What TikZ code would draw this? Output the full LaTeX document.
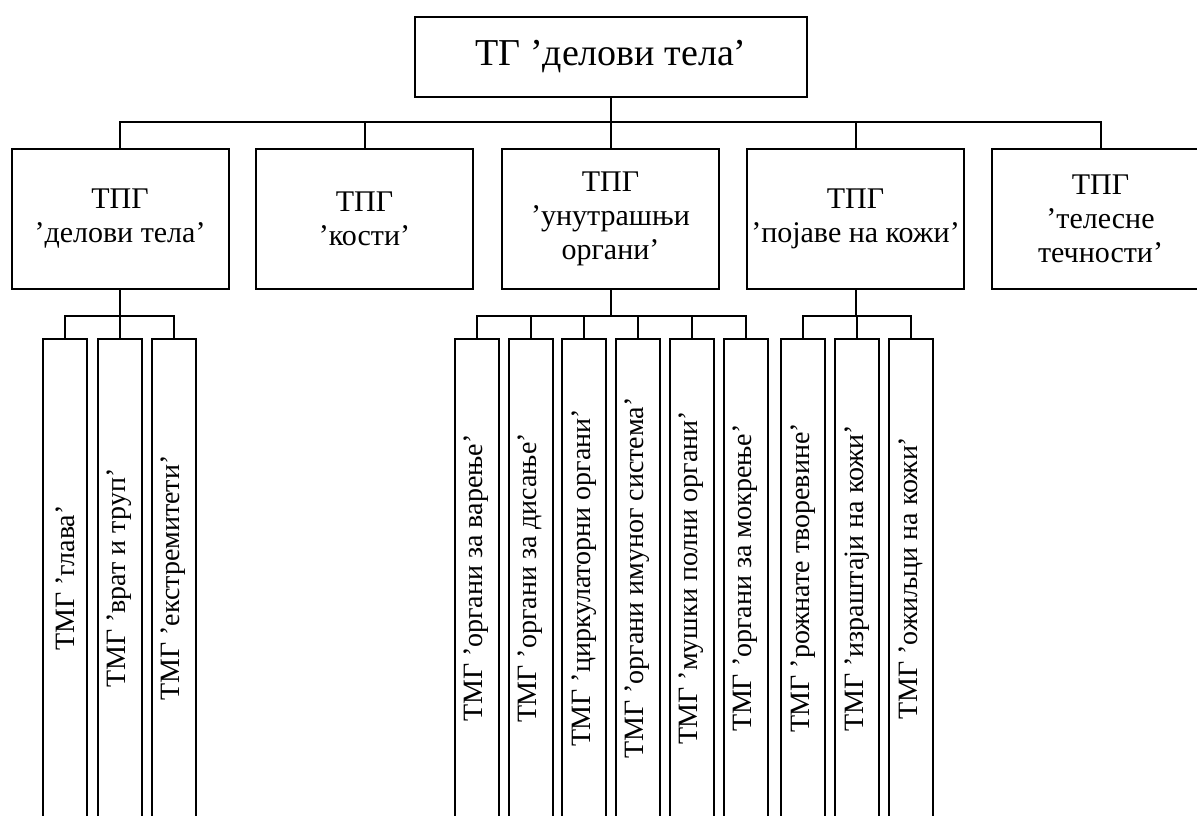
\documentclass[tikz,border=0pt]{standalone}
\usepackage{fontspec}
\setmainfont{Liberation Serif}
\usepackage{graphicx}
\begin{document}
\begin{tikzpicture}[x=0.5pt,y=-0.5pt,line width=1pt,
  rootbox/.style={draw,minimum width=196pt,minimum height=40pt,inner sep=0pt,
    font=\fontsize{19}{22}\selectfont},
  groupbox/.style={draw,minimum width=108.5pt,minimum height=70pt,inner sep=0pt,
    align=center,font=\fontsize{15}{17}\selectfont},
  leafbox/.style={draw,minimum width=22pt,minimum height=239pt,inner sep=0pt,
    font=\fontsize{14}{16}\selectfont}]
\useasboundingbox (0,0) rectangle (1197,815);
\clip (0,0) rectangle (1197,815);

% top level
\node[rootbox] (root) at (611,57) {ТГ ’делови тела’};

% second level
\node[groupbox] (g1) at (120,219) {ТПГ\\’делови тела’};
\node[groupbox] (g2) at (364.5,219) {ТПГ\\’кости’};
\node[groupbox] (g3) at (610.5,219) {ТПГ\\’унутрашњи\\органи’};
\node[groupbox] (g4) at (855.5,219) {ТПГ\\’појаве на кожи’};
\node[groupbox] (g5) at (1100.5,219) {ТПГ\\’телесне\\течности’};

% third level: parts of the body
\node[leafbox] (a1) at (65,578)  {\rotatebox{90}{ТМГ ’глава’}};
\node[leafbox] (a2) at (119.5,578) {\rotatebox{90}{ТМГ ’врат и труп’}};
\node[leafbox] (a3) at (173.5,578) {\rotatebox{90}{ТМГ ’екстремитети’}};

% third level: internal organs
\node[leafbox] (b1) at (476.5,578) {\rotatebox{90}{ТМГ ’органи за варење’}};
\node[leafbox] (b2) at (530.5,578) {\rotatebox{90}{ТМГ ’органи за дисање’}};
\node[leafbox] (b3) at (584,578)   {\rotatebox{90}{ТМГ ’циркулаторни органи’}};
\node[leafbox] (b4) at (637.5,578) {\rotatebox{90}{ТМГ ’органи имуног система’}};
\node[leafbox] (b5) at (691.5,578) {\rotatebox{90}{ТМГ ’мушки полни органи’}};
\node[leafbox] (b6) at (745.5,578) {\rotatebox{90}{ТМГ ’органи за мокрење’}};

% third level: skin phenomena
\node[leafbox] (c1) at (803,578)   {\rotatebox{90}{ТМГ ’рожнате творевине’}};
\node[leafbox] (c2) at (857,578)   {\rotatebox{90}{ТМГ ’израштаји на кожи’}};
\node[leafbox] (c3) at (910.5,578) {\rotatebox{90}{ТМГ ’ожиљци на кожи’}};

% bus heights
\coordinate (busA) at (0,122);
\coordinate (busB) at (0,316);

% root to second level
\draw (root.south) -- (root.south |- busA);
\draw (g1.north) -- (g1.north |- busA) -- (g5.north |- busA) -- (g5.north);
\foreach \n in {g2,g3,g4} \draw (\n.north) -- (\n.north |- busA);

% ТПГ 'делови тела' to its leaves
\draw (g1.south) -- (g1.south |- busB);
\draw (a1.north) -- (a1.north |- busB) -- (a3.north |- busB) -- (a3.north);
\draw (a2.north) -- (a2.north |- busB);

% ТПГ 'унутрашњи органи' to its leaves
\draw (g3.south) -- (g3.south |- busB);
\draw (b1.north) -- (b1.north |- busB) -- (b6.north |- busB) -- (b6.north);
\foreach \n in {b2,b3,b4,b5} \draw (\n.north) -- (\n.north |- busB);

% ТПГ 'појаве на кожи' to its leaves
\draw (g4.south) -- (g4.south |- busB);
\draw (c1.north) -- (c1.north |- busB) -- (c3.north |- busB) -- (c3.north);
\draw (c2.north) -- (c2.north |- busB);
\end{tikzpicture}
\end{document}
